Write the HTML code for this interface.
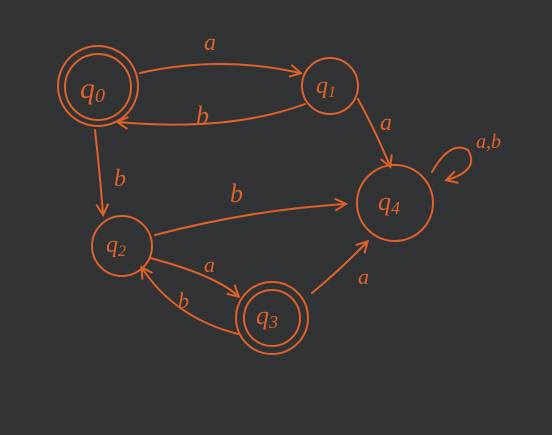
<!DOCTYPE html>
<html><head><meta charset="utf-8"><style>
html,body{margin:0;padding:0;background:#323335;}
svg{display:block}
text{font-family:"Liberation Serif",serif;font-style:italic;fill:#e0622a;}
</style></head><body>
<svg width="552" height="435" viewBox="0 0 552 435">
<defs>
<marker id="ah" markerWidth="14" markerHeight="14" refX="11" refY="7" orient="auto" markerUnits="userSpaceOnUse">
<path d="M1,1 L12,7 L1,13" fill="none" stroke="#e0622a" stroke-width="2"/>
</marker>
</defs>
<rect width="552" height="435" fill="#323335"/>
<g fill="none" stroke="#e0622a" stroke-width="2" stroke-linecap="round">
<g>
<circle cx="98" cy="86" r="40"/><circle cx="98" cy="87" r="33"/>
</g>
<circle cx="330" cy="86" r="28"/>
<circle cx="395" cy="203" r="38"/>
<circle cx="122" cy="246" r="30"/>
<g>
<circle cx="272" cy="318" r="36"/><circle cx="272" cy="318" r="28"/>
</g>
<path d="M140,73 Q220,55 300,73" marker-end="url(#ah)"/>
<path d="M305,104 Q230,132 118,122" marker-end="url(#ah)"/>
<path d="M358,99 Q375,130 390,166" marker-end="url(#ah)"/>
<path d="M432,172 Q450,140 468,150 Q480,170 447,180" marker-end="url(#ah)"/>
<path d="M95,130 Q100,175 103,214" marker-end="url(#ah)"/>
<path d="M155,235 Q250,210 345,204" marker-end="url(#ah)"/>
<path d="M150,258 Q215,275 238,296" marker-end="url(#ah)"/>
<path d="M238,334 Q175,318 142,268" marker-end="url(#ah)"/>
<path d="M312,293 Q340,270 367,242" marker-end="url(#ah)"/>
</g>
<text x="80" y="98" font-size="30">q<tspan font-size="20" dy="4">0</tspan></text>
<text x="316" y="93" font-size="24">q<tspan font-size="16" dy="4">1</tspan></text>
<text x="378" y="210" font-size="26">q<tspan font-size="18" dy="4">4</tspan></text>
<text x="106" y="252" font-size="24">q<tspan font-size="16" dy="4">2</tspan></text>
<text x="256" y="324" font-size="26">q<tspan font-size="18" dy="4">3</tspan></text>
<text x="204" y="50" font-size="24">a</text>
<text x="196" y="124" font-size="26">b</text>
<text x="380" y="130" font-size="24">a</text>
<text x="476" y="148" font-size="20">a,b</text>
<text x="114" y="186" font-size="24">b</text>
<text x="230" y="202" font-size="26">b</text>
<text x="204" y="272" font-size="22">a</text>
<text x="178" y="308" font-size="22">b</text>
<text x="358" y="284" font-size="22">a</text>
</svg>
</body></html>
